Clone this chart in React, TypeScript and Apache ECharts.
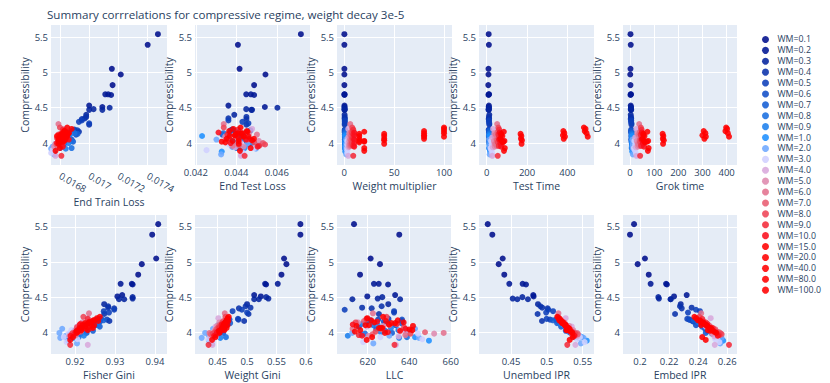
import React, { useEffect, useRef } from "react";
import * as echarts from "echarts";

const wmLabels = ["WM=0.1","WM=0.2","WM=0.3","WM=0.4","WM=0.5","WM=0.6","WM=0.7","WM=0.8","WM=0.9","WM=1.0","WM=2.0","WM=3.0","WM=4.0","WM=5.0","WM=6.0","WM=7.0","WM=8.0","WM=9.0","WM=10.0","WM=15.0","WM=20.0","WM=40.0","WM=80.0","WM=100.0"];
const wmValues = [0.1,0.2,0.3,0.4,0.5,0.6,0.7,0.8,0.9,1,2,3,4,5,6,7,8,9,10,15,20,40,80,100];
const wmColors = ["#000f8c","#001794","#04249e","#0931ab","#0d3fb9","#114dc7","#155dd4","#196ee0","#1c80ed","#1e90ff","#6ea8ff","#d0d0ff","#d8a8dc","#de8aae","#e2728e","#e85d72","#ee4456","#f42b3a","#fb0f1c","#ff0000","#ff0000","#ff0000","#ff0000","#ff0000"];

const compressibility = [
  [5.54,5.39,5.05,4.97,4.82],[4.69,4.69,4.68,4.53,4.51],[4.50,4.48,4.47,4.47,4.40],[4.37,4.35,4.34,4.26,4.16],[4.32,4.30,4.28,4.19,4.18],
  [4.18,4.15,4.12,4.10,4.05],[4.17,4.13,4.08,4.02,3.99],[4.14,4.10,4.03,3.98,3.93],[4.12,4.06,4.00,3.95,3.92],[4.10,4.02,3.97,3.93,3.88],
  [4.05,3.99,3.95,3.92,3.84],[4.03,3.98,3.93,3.90,3.86],[4.20,4.08,4.00,3.94,3.82],[4.14,4.09,4.03,3.98,3.95],[4.27,4.12,4.05,3.99,3.96],
  [4.16,4.10,4.04,4.00,3.97],[4.22,4.14,4.07,4.01,3.98],[4.19,4.12,4.06,3.96,3.82],[4.15,4.11,4.05,4.00,3.95],[4.13,4.10,4.06,4.03,4.01],
  [4.16,4.03,4.02,3.93,3.89],[4.13,4.10,4.06,4.04,3.99],[4.17,4.14,4.11,4.09,4.06],[4.22,4.20,4.17,4.14,4.09]
];
const endTrainLoss = [
  [0.01747,0.01740,0.017155,0.017216,0.01716],[0.01711,0.01713,0.01715,0.01700,0.01709],[0.01714,0.01703,0.01709,0.01700,0.01698],[0.01698,0.01697,0.01695,0.01700,0.01693],[0.01695,0.01693,0.01700,0.01690,0.01692],
  [0.01689,0.01686,0.01691,0.01684,0.01688],[0.01688,0.01692,0.01685,0.01689,0.01683],[0.01690,0.01686,0.01688,0.01682,0.01688],[0.01687,0.01684,0.01686,0.01681,0.01684],[0.01684,0.01681,0.01678,0.01680,0.01676],
  [0.01679,0.01677,0.01675,0.01674,0.01676],[0.01680,0.01677,0.01678,0.01675,0.01674],[0.01683,0.01679,0.01681,0.01677,0.01677],[0.01681,0.01683,0.01679,0.01678,0.01676],[0.01679,0.01682,0.01680,0.01677,0.01679],
  [0.01684,0.01681,0.01679,0.01682,0.01678],[0.01680,0.01684,0.01678,0.01682,0.01680],[0.01682,0.01679,0.01685,0.01681,0.01681],[0.01683,0.01680,0.01686,0.01678,0.01682],[0.01681,0.01685,0.01679,0.01683,0.01680],
  [0.01684,0.01679,0.01682,0.01680,0.01677],[0.01682,0.01678,0.01684,0.01680,0.01679],[0.01683,0.01686,0.01681,0.01684,0.01680],[0.01685,0.01688,0.01683,0.01686,0.01682]
];
const endTestLoss = [
  [0.04719,0.04408,0.04416,0.04544,0.04488],[0.04449,0.04472,0.04488,0.04361,0.04541],[0.04603,0.04449,0.04474,0.04478,0.04390],[0.04450,0.04361,0.04450,0.04450,0.04410],[0.04361,0.04430,0.04460,0.04380,0.04470],
  [0.04372,0.04448,0.04331,0.04405,0.04467],[0.04395,0.04364,0.04425,0.04452,0.04387],[0.04336,0.04418,0.04376,0.04459,0.04402],[0.04351,0.04433,0.04478,0.04382,0.04425],[0.04231,0.04385,0.04512,0.04441,0.04328],
  [0.04302,0.04456,0.04378,0.04497,0.04325],[0.04412,0.04365,0.04488,0.04253,0.04435],[0.04478,0.04352,0.04421,0.04394,0.04423],[0.04463,0.04345,0.04511,0.04398,0.04436],[0.04338,0.04502,0.04458,0.04529,0.04381],
  [0.04452,0.04398,0.04476,0.04532,0.04413],[0.04338,0.04425,0.04361,0.04488,0.04542],[0.04408,0.04356,0.04462,0.04512,0.04441],[0.04312,0.04395,0.04448,0.04372,0.04505],[0.04425,0.04368,0.04487,0.04412,0.04346],
  [0.04456,0.04382,0.04328,0.04471,0.04418],[0.04398,0.04436,0.04352,0.04478,0.04412],[0.04365,0.04428,0.04392,0.04461,0.04412],[0.04421,0.04385,0.04452,0.04408,0.04436]
];
const testTime = [
  [10,11,9,9,8],[10,12,9,11,10],[12,10,11,9,13],[11,12,10,13,12],[12,11,13,10,12],
  [13,12,14,11,13],[12,14,13,12,15],[14,13,15,14,13],[13,15,14,16,14],[14,16,15,13,17],
  [15,17,16,18,15],[22,25,20,24,27],[32,28,35,30,28],[38,42,36,45,40],[52,45,48,42,50],
  [55,60,52,58,62],[58,64,60,55,66],[62,58,66,60,55],[65,70,62,68,72],[72,78,68,75,80],
  [85,88,82,90,86],[168,172,170,175,173],[380,385,378,388,382],[482,490,486,495,501]
];
const grokTime = [
  [2,3,2,1,2],[3,4,2,3,4],[4,3,5,4,3],[4,5,3,6,5],[5,4,6,5,7],
  [6,5,7,6,5],[6,8,7,6,8],[7,6,8,9,7],[8,7,9,8,10],[9,8,10,11,9],
  [10,12,11,13,12],[18,22,16,20,24],[26,22,29,24,27],[30,34,28,36,32],[38,35,41,33,39],
  [42,46,40,44,48],[45,50,47,43,52],[48,44,52,46,42],[50,55,48,53,58],[55,60,52,58,62],
  [72,75,70,77,74],[135,138,136,140,137],[305,312,300,314,308],[398,402,395,405,410]
];
const fisherGini = [
  [0.9408,0.9393,0.9403,0.9367,0.9358],[0.9314,0.9342,0.9344,0.9318,0.9306],[0.9344,0.9344,0.9310,0.9323,0.9273],[0.9283,0.9283,0.9298,0.9273,0.9286],[0.9298,0.9272,0.9285,0.9265,0.9280],
  [0.9255,0.9262,0.9248,0.9251,0.9236],[0.9271,0.9238,0.9262,0.9245,0.9229],[0.9243,0.9257,0.9226,0.9214,0.9209],[0.9233,0.9241,0.9205,0.9222,0.9196],[0.9215,0.9198,0.9187,0.9176,0.9183],
  [0.9168,0.9161,0.9177,0.9163,0.9205],[0.9191,0.9184,0.9172,0.9206,0.9179],[0.9232,0.9205,0.9196,0.9188,0.9232],[0.9218,0.9234,0.9201,0.9193,0.9186],[0.9235,0.9228,0.9213,0.9195,0.9202],
  [0.9243,0.9226,0.9217,0.9208,0.9199],[0.9221,0.9238,0.9205,0.9214,0.9193],[0.9232,0.9214,0.9241,0.9196,0.9188],[0.9236,0.9212,0.9228,0.9201,0.9189],[0.9225,0.9248,0.9211,0.9232,0.9207],
  [0.9258,0.9216,0.9204,0.9195,0.9188],[0.9234,0.9219,0.9245,0.9211,0.9204],[0.9248,0.9236,0.9229,0.9241,0.9218],[0.9262,0.9255,0.9246,0.9239,0.9227]
];
const weightGini = [
  [0.5907,0.5907,0.5629,0.5669,0.5585],[0.5522,0.5307,0.5324,0.5121,0.5234],[0.5324,0.5363,0.5200,0.5121,0.5000],[0.4975,0.5059,0.4861,0.5025,0.4951],[0.4912,0.4754,0.5000,0.4845,0.4855],
  [0.4702,0.4638,0.4671,0.4589,0.4612],[0.4661,0.4713,0.4625,0.4568,0.4595],[0.4634,0.4582,0.4546,0.4512,0.4641],[0.4575,0.4521,0.4488,0.4463,0.4546],[0.4512,0.4463,0.4381,0.4425,0.4358],
  [0.4421,0.4287,0.4352,0.4229,0.4402],[0.4456,0.4398,0.4471,0.4342,0.4415],[0.4512,0.4465,0.4418,0.4376,0.4412],[0.4528,0.4492,0.4453,0.4367,0.4421],[0.4621,0.4558,0.4497,0.4362,0.4435],
  [0.4596,0.4532,0.4478,0.4451,0.4386],[0.4632,0.4583,0.4512,0.4468,0.4419],[0.4671,0.4593,0.4528,0.4472,0.4345],[0.4648,0.4567,0.4602,0.4489,0.4441],[0.4625,0.4668,0.4572,0.4614,0.4538],
  [0.4682,0.4553,0.4521,0.4462,0.4405],[0.4621,0.4595,0.4652,0.4564,0.4532],[0.4662,0.4638,0.4605,0.4628,0.4584],[0.4688,0.4672,0.4651,0.4643,0.4612]
];
const llc = [
  [613.4,635.2,621.4,625.9,616.3],[623.0,625.3,629.8,633.2,619.8],[627.0,624.8,635.6,612.6,629.9],[626.7,617.3,621.9,625.4,636.5],[608.9,632.7,632.7,630.0,625.0],
  [636.5,627.8,619.2,633.4,624.1],[621.3,636.2,615.8,628.4,631.7],[629.3,622.6,634.8,618.7,638.9],[617.4,631.2,626.3,610.4,635.1],[624.8,638.6,616.9,642.8,649.5],
  [642.8,612.5,630.4,644.7,622.7],[635.6,644.2,626.1,646.3,617.8],[628.7,619.6,638.2,634.9,633.6],[615.3,627.5,641.2,652.0,620.4],[622.5,633.8,612.7,656.6,638.1],
  [618.2,630.5,626.8,647.6,622.3],[629.1,614.2,637.5,623.8,640.6],[619.4,634.1,627.2,615.7,632.9],[624.5,612.8,638.2,629.7,617.3],[631.4,620.6,626.9,641.5,613.8],
  [628.8,616.4,635.6,622.1,619.5],[633.2,618.9,625.4,640.1,628.3],[621.7,637.3,630.2,614.6,626.1],[627.4,619.8,634.5,623.2,641.8]
];
const unembedIPR = [
  [0.4175,0.4239,0.4384,0.4328,0.4406],[0.4476,0.4662,0.4709,0.4810,0.4815],[0.4658,0.4523,0.4588,0.4736,0.4876],[0.4910,0.4935,0.5010,0.4871,0.4932],[0.5020,0.5087,0.4990,0.4997,0.5044],
  [0.5128,0.5163,0.5211,0.5235,0.5302],[0.5085,0.5142,0.5198,0.5264,0.5331],[0.5172,0.5217,0.5283,0.5346,0.5392],[0.5201,0.5268,0.5315,0.5378,0.5446],[0.5233,0.5312,0.5398,0.5487,0.5557],
  [0.5285,0.5398,0.5456,0.5512,0.5475],[0.5302,0.5387,0.5462,0.5421,0.5528],[0.5263,0.5348,0.5385,0.5426,0.5398],[0.5245,0.5312,0.5368,0.5432,0.5401],[0.5162,0.5254,0.5306,0.5418,0.5352],
  [0.5208,0.5262,0.5325,0.5367,0.5432],[0.5154,0.5231,0.5288,0.5352,0.5398],[0.5183,0.5245,0.5302,0.5376,0.5285],[0.5198,0.5243,0.5291,0.5348,0.5385],[0.5212,0.5256,0.5305,0.5274,0.5331],
  [0.5192,0.5278,0.5315,0.5362,0.5318],[0.5221,0.5265,0.5287,0.5318,0.5356],[0.5172,0.5215,0.5248,0.5262,0.5295],[0.5145,0.5168,0.5196,0.5225,0.5258]
];
const embedIPR = [
  [0.1959,0.1931,0.2034,0.1984,0.2060],[0.2073,0.2179,0.2185,0.2321,0.2234],[0.2126,0.2130,0.2210,0.2211,0.2280],[0.2275,0.2355,0.2287,0.2241,0.2360],[0.2385,0.2412,0.2330,0.2325,0.2339],
  [0.2342,0.2368,0.2411,0.2385,0.2447],[0.2371,0.2398,0.2426,0.2463,0.2452],[0.2403,0.2437,0.2472,0.2495,0.2541],[0.2415,0.2468,0.2503,0.2527,0.2558],[0.2432,0.2487,0.2521,0.2546,0.2572],
  [0.2498,0.2512,0.2535,0.2561,0.2552],[0.2478,0.2506,0.2532,0.2517,0.2545],[0.2486,0.2452,0.2493,0.2512,0.2514],[0.2445,0.2478,0.2512,0.2498,0.2534],[0.2421,0.2462,0.2505,0.2531,0.2548],
  [0.2436,0.2472,0.2518,0.2545,0.2562],[0.2408,0.2452,0.2489,0.2527,0.2556],[0.2428,0.2462,0.2501,0.2543,0.2612],[0.2418,0.2448,0.2486,0.2519,0.2535],[0.2438,0.2421,0.2475,0.2496,0.2508],
  [0.2412,0.2467,0.2482,0.2428,0.2452],[0.2431,0.2455,0.2478,0.2492,0.2524],[0.2398,0.2426,0.2451,0.2463,0.2487],[0.2374,0.2386,0.2412,0.2435,0.2462]
];
const weightMultiplier = wmValues.map((v) => [v, v, v, v, v]);

const panelTitles = ["End Train Loss","End Test Loss","Weight multiplier","Test Time","Grok time","Fisher Gini","Weight Gini","LLC","Unembed IPR","Embed IPR"];
const panelMetrics = [endTrainLoss, endTestLoss, weightMultiplier, testTime, grokTime, fisherGini, weightGini, llc, unembedIPR, embedIPR];
const panelRanges = [[0.016739,0.017532],[0.04196,0.04764],[-7.3,108],[-38,532],[-29,443],[0.914,0.943],[0.4115,0.607],[605.2,660.6],[0.4053,0.5658],[0.1883,0.2667]];
const panelSteps = [0.0002,0.002,50,200,100,0.01,0.05,20,0.05,0.02];
const yTitle = "Compressibility";
const chartTitle = "Summary corrrelations for compressive regime, weight decay 3e-5";

const FONT = '"Open Sans", verdana, arial, sans-serif';
const TXT = "#2a3f5f";

export default function App() {
  const ref = useRef<HTMLDivElement>(null);
  useEffect(() => {
    document.body.style.margin = "0";
    const chart = echarts.init(ref.current!, null, { renderer: "svg" });
    const colLeft = [51, 195, 337, 479, 623];
    const colW = [116, 115, 115, 115, 114];
    const rowTop = [25, 215];
    const rowH = [140, 139];
    const grids: any[] = [];
    const xAxes: any[] = [];
    const yAxes: any[] = [];
    const series: any[] = [];
    for (let p = 0; p < 10; p++) {
      const r = Math.floor(p / 5);
      const c = p % 5;
      grids.push({ left: colLeft[c], top: rowTop[r], width: colW[c], height: rowH[r], backgroundColor: "#E5ECF6", show: true, borderWidth: 0 });
      xAxes.push({
        type: "value", gridIndex: p, min: panelRanges[p][0], max: panelRanges[p][1],
        minInterval: panelSteps[p], maxInterval: panelSteps[p],
        name: panelTitles[p], nameLocation: "middle", nameGap: p === 0 ? 31 : 15,
        nameTextStyle: { fontFamily: FONT, fontSize: 10.5, color: TXT },
        axisLine: { show: false }, axisTick: { show: false },
        axisLabel: { fontFamily: FONT, fontSize: 9.5, color: TXT, margin: p === 0 ? 10 : 2.5, interval: 0, showMinLabel: false, showMaxLabel: false, rotate: p === 0 ? -30 : 0 },
        splitLine: { show: true, showMinLine: false, showMaxLine: false, lineStyle: { color: "#ffffff", width: 1 } },
      });
      yAxes.push({
        type: "value", gridIndex: p, min: 3.69, max: 5.67, minInterval: 0.5, maxInterval: 0.5,
        name: yTitle, nameLocation: "middle", nameGap: 15,
        nameTextStyle: { fontFamily: FONT, fontSize: 10.5, color: TXT },
        axisLine: { show: false }, axisTick: { show: false },
        axisLabel: { fontFamily: FONT, fontSize: 9.5, color: TXT, margin: 3, showMinLabel: false, showMaxLabel: false },
        splitLine: { show: true, showMinLine: false, showMaxLine: false, lineStyle: { color: "#ffffff", width: 1 } },
      });
      for (let g = 0; g < wmLabels.length; g++) {
        series.push({
          type: "scatter", name: wmLabels[g], xAxisIndex: p, yAxisIndex: p,
          symbol: "circle", symbolSize: 6,
          itemStyle: { color: wmColors[g], opacity: 0.88 },
          data: compressibility[g].map((v, i) => [panelMetrics[p][g][i], v]),
        });
      }
    }
    chart.setOption({
      animation: false,
      backgroundColor: "#ffffff",
      title: { text: chartTitle, left: 42, top: 3, textStyle: { fontFamily: FONT, fontSize: 11.6, fontWeight: "normal", color: TXT } },
      legend: {
        data: wmLabels, orient: "vertical", left: 757, top: 29, icon: "circle",
        itemWidth: 14, itemHeight: 7, itemGap: 0,
        textStyle: { fontFamily: FONT, fontSize: 8.8, color: TXT, lineHeight: 10.9 },
      },
      grid: grids, xAxis: xAxes, yAxis: yAxes, series,
    });
    return () => chart.dispose();
  }, []);
  return <div ref={ref} style={{ width: 830, height: 383, position: "absolute", left: 0, top: 0 }} />;
}
